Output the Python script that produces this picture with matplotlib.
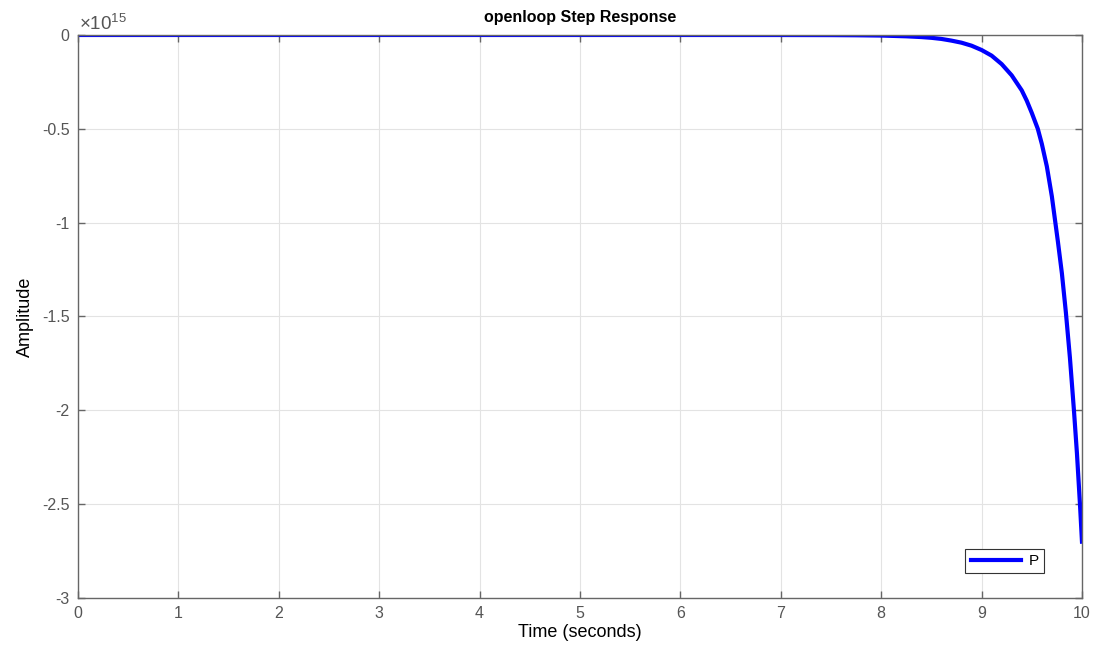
import matplotlib.pyplot as plt
import numpy as np

# step response values (amplitude in units of 1e15)
time_s = [0, 1, 2, 3, 4, 5, 6, 7, 7.5, 7.75, 8, 8.25, 8.4, 8.5, 8.6, 8.7,
          8.8, 8.9, 9.0, 9.1, 9.2, 9.3, 9.4, 9.45, 9.5, 9.56, 9.6, 9.65,
          9.7, 9.73, 9.76, 9.8, 9.84, 9.88, 9.92, 9.95, 9.98, 10]
amp_e15 = [0, 0, 0, 0, 0, 0, 0, -0.0002, -0.0007, -0.0015, -0.003, -0.007,
           -0.011, -0.015, -0.021, -0.03, -0.041, -0.057, -0.08, -0.11,
           -0.155, -0.215, -0.295, -0.35, -0.415, -0.5, -0.58, -0.7, -0.86,
           -0.98, -1.1, -1.27, -1.48, -1.72, -2.0, -2.23, -2.5, -2.7]

x_ticks = list(range(0, 11))
y_ticks = [0, -0.5, -1, -1.5, -2, -2.5, -3]
y_labels = ['0', '-0.5', '-1', '-1.5', '-2', '-2.5', '-3']

plt.rcParams['font.family'] = ['Liberation Sans', 'DejaVu Sans']
plt.rcParams['axes.unicode_minus'] = False
plt.rcParams['mathtext.fontset'] = 'custom'
plt.rcParams['mathtext.rm'] = 'Liberation Sans'

fig = plt.figure(figsize=(10.96, 6.48), dpi=100)
ax = fig.add_axes([0.0712, 0.0772, 0.916, 0.8688])

ax.plot(time_s, amp_e15, color='#0000ff', linewidth=3.0, label='P',
        solid_joinstyle='round')

ax.set_xlim(0, 10)
ax.set_ylim(-3, 0)
ax.set_xticks(x_ticks)
ax.set_yticks(y_ticks)
ax.set_yticklabels(y_labels)

# matlab-like axes look
box_col = '#666666'
for sp in ax.spines.values():
    sp.set_color(box_col)
    sp.set_linewidth(1.0)
ax.tick_params(direction='in', length=5, width=1, color=box_col,
               labelcolor='#555555', labelsize=11.5, top=True, right=True,
               pad=6)
ax.grid(True, color='#e3e3e3', linewidth=0.8)
ax.set_axisbelow(True)

ax.set_title('openloop Step Response', fontsize=11.5, fontweight='bold',
             pad=9)
ax.set_xlabel('Time (seconds)', fontsize=13, labelpad=2)
ax.set_ylabel('Amplitude', fontsize=13, labelpad=6)

# exponent label like matlab
ax.text(0.001, 1.002, r'$\times\mathregular{10^{15}}$', transform=ax.transAxes,
        fontsize=13.5, color='#555555', ha='left', va='bottom')

leg = ax.legend(loc='lower right', bbox_to_anchor=(0.97, 0.03),
                fontsize=11, fancybox=False, framealpha=1,
                edgecolor='#333333', handlelength=3.3, borderpad=0.35,
                handletextpad=0.5)
leg.get_frame().set_linewidth(0.8)

fig.savefig('out.png', dpi=100)
